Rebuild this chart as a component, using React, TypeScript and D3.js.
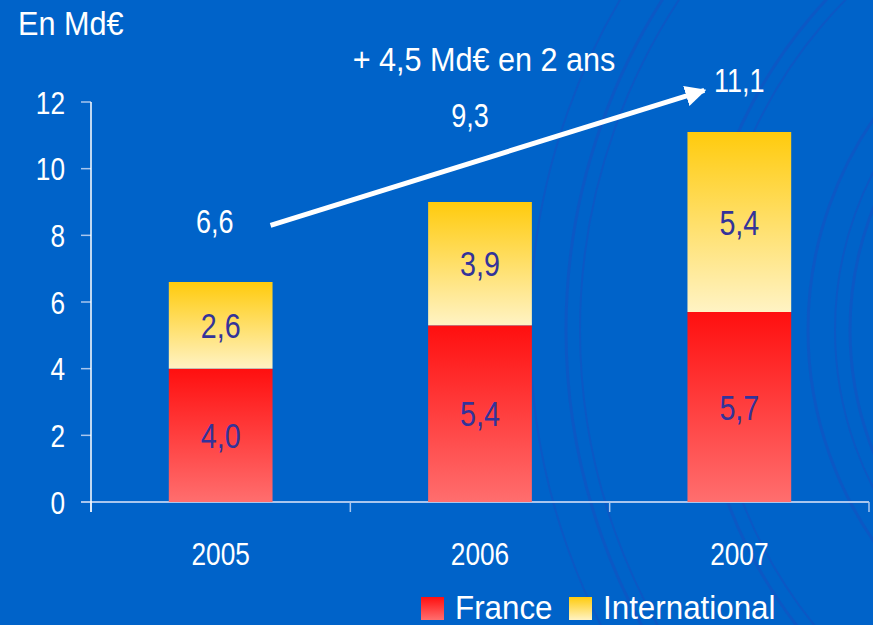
import { useEffect, useRef } from 'react'
import * as d3 from 'd3'

const years = ['2005', '2006', '2007']
// bar heights as drawn in the picture
const france = [4.0, 5.3, 5.7]
const international = [2.6, 3.7, 5.4]
// printed labels
const franceLabels = ['4,0', '5,4', '5,7']
const internationalLabels = ['2,6', '3,9', '5,4']
const totalLabels = ['6,6', '9,3', '11,1']
const yTicks = [0, 2, 4, 6, 8, 10, 12]

const W = 873
const H = 625
const margin = { top: 102, right: 4, bottom: 123, left: 91 }
const SANS = '"Liberation Sans", Arial, sans-serif'
const SQUEEZE = 0.82

type Sel = d3.Selection<SVGGElement, unknown, null, undefined>

// narrow text: Liberation Sans squeezed horizontally
function narrowText(
  parent: Sel,
  x: number,
  y: number,
  text: string,
  size: number,
  fill: string,
  anchor = 'middle',
  sx = SQUEEZE,
) {
  return parent
    .append('g')
    .attr('transform', `translate(${x},${y}) scale(${sx},1)`)
    .append('text')
    .attr('text-anchor', anchor)
    .attr('fill', fill)
    .attr('font-family', SANS)
    .attr('font-size', size)
    .text(text)
}

export default function App() {
  const svgRef = useRef<SVGSVGElement>(null)

  useEffect(() => {
    if (!svgRef.current) return
    const root = d3.select(svgRef.current)
    root.selectAll('*').remove()

    const x = d3
      .scaleBand()
      .domain(years)
      .range([margin.left, W - margin.right])
      .paddingInner(0.6)
      .paddingOuter(0.3)
    const y = d3
      .scaleLinear()
      .domain([0, 12])
      .range([H - margin.bottom, margin.top])

    const defs = root.append('defs')
    const grad = (id: string, top: string, bottom: string) => {
      const g = defs
        .append('linearGradient')
        .attr('id', id)
        .attr('x1', 0)
        .attr('y1', 0)
        .attr('x2', 0)
        .attr('y2', 1)
      g.append('stop').attr('offset', '0%').attr('stop-color', top)
      g.append('stop').attr('offset', '100%').attr('stop-color', bottom)
    }
    grad('gFr', '#ff0f0f', '#ff6e6e')
    grad('gIn', '#ffcb0d', '#fff3c4')

    const svg = root.append('g') as unknown as Sel

    // background
    svg.append('rect').attr('width', W).attr('height', H).attr('fill', '#0063c9')

    // faint decorative arcs on the right
    const deco = svg
      .append('g')
      .attr('fill', 'none')
      .attr('stroke', '#1f48bd')
      .attr('stroke-opacity', 0.4)
    const cx = 1180
    const cy = 330
    ;[330, 345, 372, 470, 484, 600, 614, 650].forEach((r, i) => {
      const arc = d3
        .arc()
        .innerRadius(r)
        .outerRadius(r)
        .startAngle(-Math.PI * 0.95)
        .endAngle(-Math.PI * 0.05)
      deco
        .append('path')
        .attr('transform', `translate(${cx},${cy})`)
        .attr('d', arc({} as any) as string)
        .attr('stroke-width', i % 2 ? 2 : 3)
    })

    // y axis
    const x0 = y(0)
    svg
      .append('g')
      .selectAll('line')
      .data(yTicks)
      .join('line')
      .attr('x1', margin.left - 10)
      .attr('x2', margin.left)
      .attr('y1', (d) => y(d))
      .attr('y2', (d) => y(d))
      .attr('stroke', '#a9c6ee')
      .attr('stroke-width', 1.5)
    const yLab = svg.append('g') as unknown as Sel
    yTicks.forEach((t) => {
      narrowText(yLab, margin.left - 26, y(t) + 11.5, String(t), 32, '#ffffff', 'end')
    })

    // x axis
    const bounds = [margin.left, ...years.map((d) => (x(d) as number) + x.bandwidth() / 2 + x.step() / 2)]
    const xAxis = svg.append('g') as unknown as Sel
    xAxis
      .append('line')
      .attr('x1', margin.left - 10)
      .attr('x2', bounds[bounds.length - 1])
      .attr('y1', x0)
      .attr('y2', x0)
      .attr('stroke', '#a9c6ee')
      .attr('stroke-width', 2)
    xAxis
      .selectAll('line.tk')
      .data(bounds)
      .join('line')
      .attr('class', 'tk')
      .attr('x1', (d) => d)
      .attr('x2', (d) => d)
      .attr('y1', x0)
      .attr('y2', x0 + 10)
      .attr('stroke', '#a9c6ee')
      .attr('stroke-width', 1.5)
    svg
      .append('line')
      .attr('x1', margin.left)
      .attr('x2', margin.left)
      .attr('y1', y(12))
      .attr('y2', x0 + 10)
      .attr('stroke', '#ffffff')
      .attr('stroke-width', 1.5)
    years.forEach((yr) => {
      narrowText(xAxis, (x(yr) as number) + x.bandwidth() / 2, x0 + 63, yr, 32, '#ffffff')
    })

    // bars
    const bars = svg.append('g') as unknown as Sel
    years.forEach((yr, i) => {
      const bx = x(yr) as number
      const bw = x.bandwidth()
      const fTop = y(france[i])
      const iTop = y(france[i] + international[i])
      bars
        .append('rect')
        .attr('x', bx)
        .attr('y', fTop)
        .attr('width', bw)
        .attr('height', x0 - fTop)
        .attr('fill', 'url(#gFr)')
      bars
        .append('rect')
        .attr('x', bx)
        .attr('y', iTop)
        .attr('width', bw)
        .attr('height', fTop - iTop)
        .attr('fill', 'url(#gIn)')
      narrowText(bars, bx + bw / 2, (fTop + x0) / 2 + 12.5, franceLabels[i], 35, '#33339a')
      narrowText(bars, bx + bw / 2, (fTop + iTop) / 2 + 12.5, internationalLabels[i], 35, '#33339a')
    })

    // totals (placed as on the slide)
    const totalDx = [-6, -10, 0]
    const totalDy = [-49, -75, -40]
    const tot = svg.append('g') as unknown as Sel
    totalLabels.forEach((t, i) => {
      narrowText(
        tot,
        (x(years[i]) as number) + x.bandwidth() / 2 + totalDx[i],
        y(france[i] + international[i]) + totalDy[i],
        t,
        33,
        '#ffffff',
      )
    })

    // growth arrow
    defs
      .append('marker')
      .attr('id', 'arrow')
      .attr('viewBox', '0 0 10 10')
      .attr('refX', 9)
      .attr('refY', 5)
      .attr('markerWidth', 4.2)
      .attr('markerHeight', 4.2)
      .attr('orient', 'auto')
      .append('path')
      .attr('d', 'M0,0 L10,5 L0,10 Z')
      .attr('fill', '#ffffff')
    const ax1 = (x(years[0]) as number) + x.bandwidth()
    const ax2 = (x(years[2]) as number) + x.bandwidth() / 2 - 35
    svg
      .append('line')
      .attr('x1', ax1 - 2)
      .attr('y1', y(8.3))
      .attr('x2', ax2)
      .attr('y2', y(12.35))
      .attr('stroke', '#ffffff')
      .attr('stroke-width', 5)
      .attr('marker-end', 'url(#arrow)')

    narrowText(svg, (x(years[1]) as number) + x.bandwidth() / 2 + 4, 71, '+ 4,5 Md€ en 2 ans', 34, '#ffffff', 'middle', 0.9)

    narrowText(svg, 18, 35, 'En Md€', 34, '#ffffff', 'start', 0.9)

    // legend
    const legend = svg.append('g').attr('transform', 'translate(421,597)') as unknown as Sel
    const items = [
      { label: 'France', fill: 'url(#gFr)', dx: 0 },
      { label: 'International', fill: 'url(#gIn)', dx: 148 },
    ]
    items.forEach((it) => {
      legend.append('rect').attr('x', it.dx).attr('y', 0).attr('width', 23).attr('height', 23).attr('fill', it.fill)
      narrowText(legend, it.dx + 34, 22, it.label, 33, '#ffffff', 'start', 0.95)
    })
  }, [])

  return (
    <svg
      ref={svgRef}
      width={W}
      height={H}
      style={{ position: 'absolute', left: 0, top: 0, display: 'block' }}
    />
  )
}
